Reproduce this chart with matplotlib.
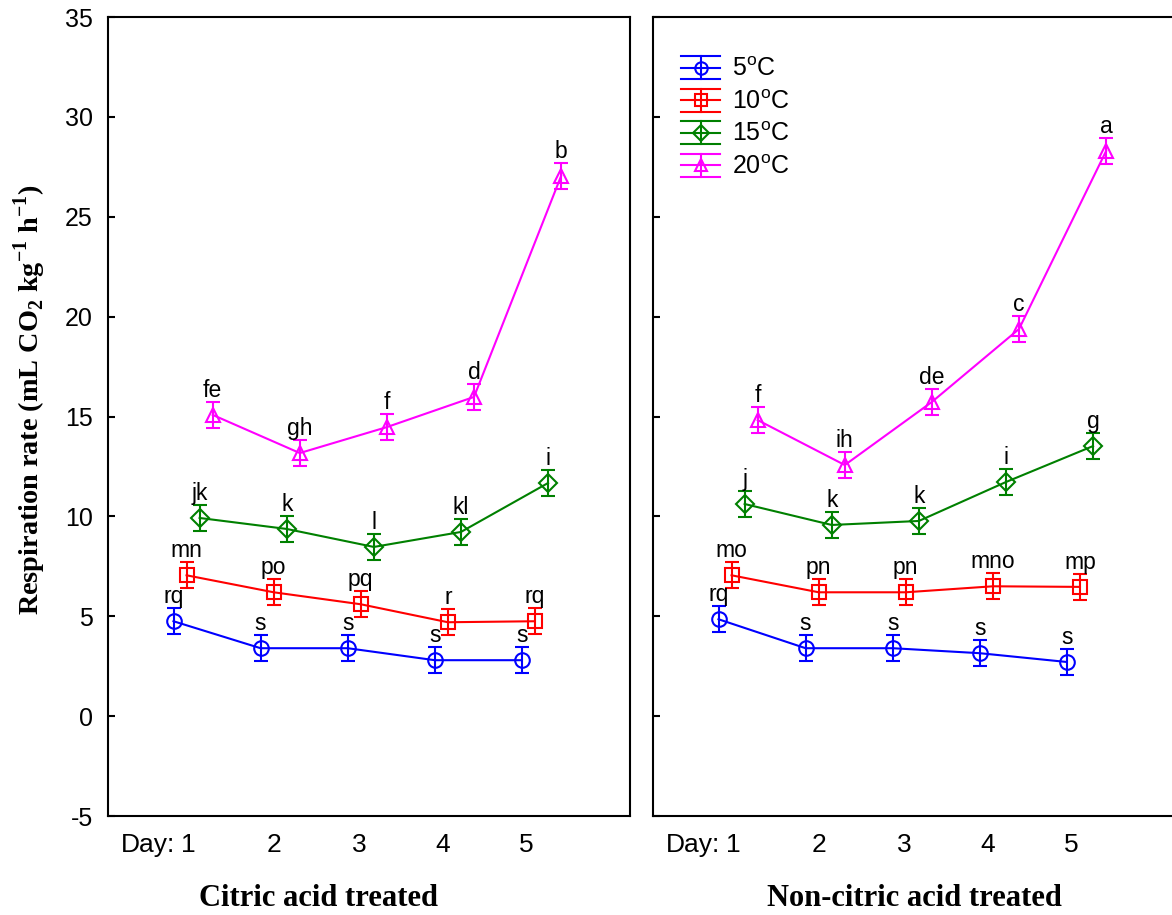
import numpy as np
import matplotlib
matplotlib.use('Agg')
import matplotlib.pyplot as plt
from matplotlib.lines import Line2D
from matplotlib.legend_handler import HandlerBase

plt.rcParams['font.family'] = ['Liberation Sans', 'DejaVu Sans']
plt.rcParams['mathtext.fontset'] = 'custom'
plt.rcParams['mathtext.rm'] = 'Liberation Serif'
plt.rcParams['mathtext.bf'] = 'Liberation Serif:bold'
plt.rcParams['mathtext.sf'] = 'Liberation Sans'
plt.rcParams['axes.unicode_minus'] = False

# dados
days = [1, 2, 3, 4, 5]
temps = ['5', '10', '15', '20']

citric_mean = {
    '5':  [4.75, 3.4, 3.4, 2.8, 2.8],
    '10': [7.05, 6.2, 5.6, 4.7, 4.75],
    '15': [9.92, 9.37, 8.47, 9.22, 11.67],
    '20': [15.08, 13.17, 14.47, 15.98, 27.04],
}
citric_err = {
    '5':  [0.65, 0.65, 0.65, 0.65, 0.65],
    '10': [0.65, 0.65, 0.65, 0.65, 0.65],
    '15': [0.65, 0.65, 0.65, 0.65, 0.65],
    '20': [0.65, 0.65, 0.65, 0.65, 0.65],
}
citric_letters = {
    '5':  ['rq', 's', 's', 's', 's'],
    '10': ['mn', 'po', 'pq', 'r', 'rq'],
    '15': ['jk', 'k', 'l', 'kl', 'i'],
    '20': ['fe', 'gh', 'f', 'd', 'b'],
}

noncitric_mean = {
    '5':  [4.85, 3.4, 3.4, 3.15, 2.71],
    '10': [7.05, 6.2, 6.2, 6.5, 6.47],
    '15': [10.62, 9.57, 9.77, 11.72, 13.52],
    '20': [14.82, 12.57, 15.73, 19.38, 28.29],
}
noncitric_err = {
    '5':  [0.65, 0.65, 0.65, 0.65, 0.65],
    '10': [0.65, 0.65, 0.65, 0.65, 0.65],
    '15': [0.65, 0.65, 0.65, 0.65, 0.65],
    '20': [0.65, 0.65, 0.65, 0.65, 0.65],
}
noncitric_letters = {
    '5':  ['rq', 's', 's', 's', 's'],
    '10': ['mo', 'pn', 'pn', 'mno', 'mp'],
    '15': ['j', 'k', 'k', 'i', 'g'],
    '20': ['f', 'ih', 'de', 'c', 'a'],
}

colors = {'5': '#0000FF', '10': '#FF0000', '15': '#008000', '20': '#FF00FF'}
markers = {'5': 'o', '10': 's', '15': 'D', '20': '^'}
msizes = {'5': 10.5, '10': 10, '15': 9, '20': 10}
offsets = {'5': -0.225, '10': -0.075, '15': 0.075, '20': 0.225}


class ErrHandler(HandlerBase):
    # simbolo da legenda no estilo Statistica: tres linhas horizontais + barra vertical
    def create_artists(self, legend, orig_handle, xdescent, ydescent,
                       width, height, fontsize, trans):
        c = orig_handle.get_color()
        m = orig_handle.get_marker()
        yc = height / 2 - ydescent
        x0 = -xdescent
        d = 8.3
        arts = []
        for yy in (yc - d, yc, yc + d):
            arts.append(Line2D([x0, x0 + width], [yy, yy], color=c, lw=1.5))
        xm = x0 + width / 2
        arts.append(Line2D([xm, xm], [yc - d, yc + d], color=c, lw=1.5))
        arts.append(Line2D([xm], [yc], marker=m, color=c, mfc='none',
                           mec=c, ms=orig_handle.get_markersize() * 0.85, mew=1.5))
        for a in arts:
            a.set_transform(trans)
        return arts


fig = plt.figure(figsize=(11.72, 9.15), dpi=100)
ax1 = fig.add_axes([108/1172, 1-816/915, 522/1172, 799/915])
ax2 = fig.add_axes([653/1172, 1-816/915, 522/1172, 799/915])

paineis = [(ax1, citric_mean, citric_err, citric_letters, 'Citric acid treated', 0.404),
           (ax2, noncitric_mean, noncitric_err, noncitric_letters, 'Non-citric acid treated', 0.5)]

for ax, means, errs, letters, titulo, xlab_pos in paineis:
    for t in temps:
        x = np.array(days) + offsets[t]
        ax.errorbar(x, means[t], yerr=errs[t], color=colors[t], marker=markers[t],
                    ms=msizes[t], mfc='none', mec=colors[t], mew=1.5, lw=1.5,
                    capsize=5, capthick=1.5, elinewidth=1.5)
        for xi, yi, ei, lab in zip(x, means[t], errs[t], letters[t]):
            ax.annotate(lab, (xi, yi + ei), xytext=(0, 0), textcoords='offset points',
                        ha='center', va='bottom', fontsize=16.5)
    ax.set_xlim(0.023, 6.016)
    ax.set_ylim(-5, 35)
    ax.set_yticks(np.arange(-5, 36, 5))
    ax.set_xticks([0.48, 0.94, 1.93, 2.91, 3.87, 4.83])
    ax.set_xticklabels(['Day:', '1', '2', '3', '4', '5'])
    ax.tick_params(axis='x', length=0, pad=12, labelsize=19)
    ax.tick_params(axis='y', direction='in', length=5, width=1.5, pad=11, labelsize=18)
    for s in ax.spines.values():
        s.set_linewidth(1.5)
    ax.set_xlabel(titulo, fontsize=22, fontweight='bold', family='Liberation Serif')
    ax.xaxis.set_label_coords(xlab_pos, -0.085)

ax2.tick_params(axis='y', labelleft=False)

fig.text(30/1172, 1-400/915,
         r'Respiration rate (mL CO$_{\mathbf{2}}$ kg$^{\mathbf{-1}}$ h$^{\mathbf{-1}}$)',
         rotation=90, ha='center', va='center', fontsize=20.3, fontweight='bold',
         family='Liberation Serif')

proxies = [Line2D([], [], color=colors[t], marker=markers[t], ms=msizes[t]) for t in temps]
ax2.legend(proxies, [t + r'$^{\mathsf{o}}$C' for t in temps], loc='upper left',
           bbox_to_anchor=(0.03, 0.965), frameon=False, fontsize=18,
           handler_map={Line2D: ErrHandler()}, handlelength=1.55,
           handletextpad=0.5, labelspacing=0.34, borderpad=0)

fig.savefig('out.png', dpi=100)
